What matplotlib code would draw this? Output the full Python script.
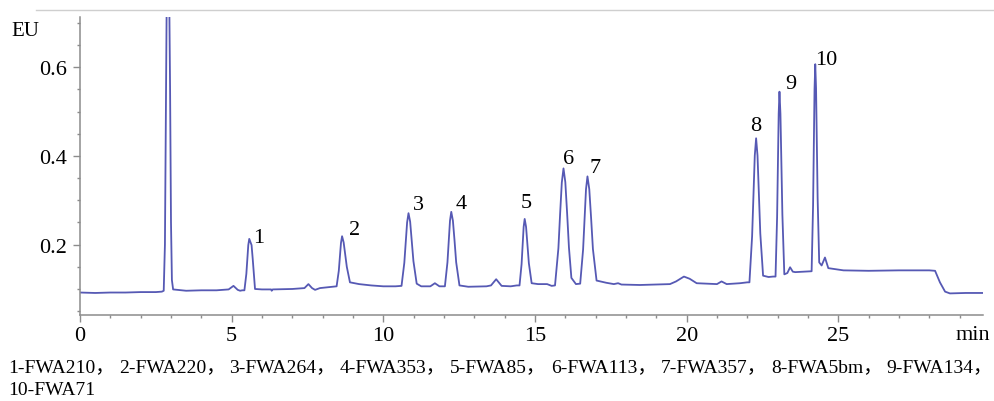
import matplotlib
matplotlib.use("Agg")
import matplotlib.pyplot as plt
from matplotlib.lines import Line2D
from matplotlib.ticker import MultipleLocator

# ---------------- data ----------------
time_min = [
    0.0, 0.5, 1.0, 1.5, 2.0, 2.5, 2.70,
    2.76, 2.80, 2.84, 2.87, 2.93, 2.97, 3.00, 3.03, 3.07,
    3.5, 4.0, 4.5, 4.9, 5.06, 5.2, 5.28, 5.35,
    5.42, 5.484, 5.516, 5.548, 5.58, 5.656, 5.694, 5.732, 5.77,
    6.0, 6.3, 6.32, 6.35, 7.0, 7.4, 7.53, 7.65, 7.75, 7.91, 8.35,
    8.46, 8.532, 8.568, 8.604, 8.64, 8.692, 8.744, 8.796, 8.9,
    9.2, 9.6, 10.0, 10.4,
    10.6, 10.692, 10.738, 10.784, 10.83, 10.884, 10.938, 10.992, 11.1,
    11.25, 11.55, 11.7, 11.85,
    12.03, 12.114, 12.156, 12.198, 12.24, 12.294, 12.348, 12.402, 12.51,
    12.8, 13.4, 13.55, 13.72, 13.9, 14.2, 14.4,
    14.49, 14.558, 14.592, 14.626, 14.66, 14.706, 14.752, 14.798, 14.89,
    15.1, 15.4, 15.55,
    15.66, 15.772, 15.828, 15.884, 15.94, 16.0, 16.06, 16.12, 16.2, 16.35,
    16.49, 16.586, 16.634, 16.682, 16.73, 16.79, 16.85, 16.91, 17.03,
    17.35, 17.6, 17.74, 17.85, 18.46, 19.45, 19.65, 19.91, 20.1, 20.33,
    21.0, 21.15, 21.32, 21.76, 22.0,
    22.07, 22.158, 22.202, 22.246, 22.29, 22.336, 22.382, 22.428, 22.52,
    22.7, 22.85,
    22.93, 22.982, 23.008, 23.034, 23.06, 23.092, 23.124, 23.156, 23.22,
    23.32, 23.41, 23.5, 23.58, 24.07,
    24.12, 24.168, 24.192, 24.216, 24.24, 24.266, 24.292, 24.318, 24.37,
    24.45, 24.56, 24.67, 25.17, 26.0, 27.0, 28.0, 28.19, 28.35, 28.52,
    28.68, 29.2, 29.76,
]
signal_eu = [
    0.092, 0.091, 0.092, 0.092, 0.093, 0.093, 0.094,
    0.096, 0.20, 0.60, 0.85, 0.85, 0.55, 0.25, 0.12, 0.099,
    0.096, 0.097, 0.097, 0.099, 0.107, 0.098, 0.096, 0.097,
    0.097, 0.134, 0.168, 0.199, 0.213, 0.199, 0.168, 0.134, 0.100,
    0.099, 0.099, 0.096, 0.099, 0.100, 0.102, 0.111, 0.102, 0.098, 0.102, 0.105,
    0.106, 0.141, 0.173, 0.204, 0.219, 0.205, 0.177, 0.150, 0.115,
    0.111, 0.108, 0.106, 0.106,
    0.107, 0.159, 0.206, 0.250, 0.271, 0.252, 0.208, 0.163, 0.112,
    0.106, 0.106, 0.113, 0.106,
    0.106, 0.160, 0.208, 0.254, 0.274, 0.254, 0.209, 0.160, 0.108,
    0.105, 0.106, 0.108, 0.122, 0.107, 0.106, 0.108,
    0.108, 0.156, 0.199, 0.240, 0.258, 0.240, 0.200, 0.158, 0.113,
    0.111, 0.111, 0.107,
    0.108, 0.192, 0.269, 0.340, 0.372, 0.341, 0.270, 0.193, 0.125, 0.111,
    0.112, 0.189, 0.259, 0.325, 0.354, 0.325, 0.260, 0.190, 0.119,
    0.114, 0.111, 0.113, 0.110, 0.109, 0.111, 0.117, 0.128, 0.123, 0.113,
    0.111, 0.117, 0.111, 0.113, 0.115,
    0.115, 0.219, 0.313, 0.401, 0.440, 0.401, 0.316, 0.225, 0.130,
    0.127, 0.128,
    0.128, 0.262, 0.382, 0.495, 0.545, 0.495, 0.386, 0.268, 0.133,
    0.136, 0.149, 0.139, 0.138, 0.140,
    0.140, 0.289, 0.425, 0.551, 0.607, 0.553, 0.432, 0.305, 0.160,
    0.153, 0.171, 0.147, 0.142, 0.141, 0.142, 0.142, 0.141, 0.115, 0.094,
    0.090, 0.091, 0.091,
]

peak_labels = ["1", "2", "3", "4", "5", "6", "7", "8", "9", "10"]
peak_times = [5.58, 8.64, 10.83, 12.24, 14.66, 15.94, 16.73, 22.29, 23.06, 24.24]
peak_heights = [0.213, 0.219, 0.271, 0.274, 0.258, 0.372, 0.354, 0.440, 0.545, 0.607]

x_ticks = [0, 5, 10, 15, 20, 25]
y_ticks = [0.2, 0.4, 0.6]
y_tick_labels = ["0.2", "0.4", "0.6"]

caption_line1_items = ["1-FWA210，", "2-FWA220，", "3-FWA264，", "4-FWA353，",
                       "5-FWA85，", "6-FWA113，", "7-FWA357，", "8-FWA5bm，",
                       "9-FWA134，"]
caption_line2 = "10-FWA71"

# ---------------- layout / style ----------------
label_offsets_px = [(9, 1), (12, 7), (10, 9), (10, 8), (2, 16),
                    (5, 10), (8, 9), (0, 13), (11, 8), (11, 5)]

SERIF = ["Liberation Serif", "Noto Sans CJK SC"]
plt.rcParams["font.family"] = SERIF

W, H = 994, 402
fig = plt.figure(figsize=(W / 100, H / 100), dpi=100)
ax = fig.add_axes([80 / W, 1 - 316 / H, 903 / W, 298 / H])

line_color = "#5659b4"
ax.plot(time_min, signal_eu, color=line_color, lw=1.3, solid_joinstyle="round")

ax.set_xlim(0, 29.77)
ax.set_ylim(0.0413, 0.7135)

spine_c = "#8c8c8c"
for s in ["top", "right"]:
    ax.spines[s].set_visible(False)
for s in ["left", "bottom"]:
    ax.spines[s].set_color(spine_c)
    ax.spines[s].set_linewidth(1.1)

ax.set_xticks(x_ticks)
ax.set_xticklabels([str(v) for v in x_ticks])
ax.xaxis.set_minor_locator(MultipleLocator(1))
ax.set_yticks(y_ticks)
ax.set_yticklabels(y_tick_labels)
ax.yaxis.set_minor_locator(MultipleLocator(0.05))

ax.tick_params(axis="both", which="major", length=5, width=1.0, color=spine_c,
               labelsize=16, labelcolor="black", direction="out")
ax.tick_params(axis="both", which="minor", length=2.5, width=1.0, color=spine_c,
               direction="out")
ax.tick_params(axis="x", which="major", pad=3)
ax.tick_params(axis="y", which="major", pad=4)

for lab, t, h, off in zip(peak_labels, peak_times, peak_heights, label_offsets_px):
    ax.annotate(lab, xy=(t, h), xytext=off, textcoords="offset pixels",
                ha="center", va="center", fontsize=16, color="black")

# axis unit labels
fig.text(25.5 / W, 1 - 32 / H, "EU", ha="center", va="center", fontsize=15)
fig.text(973 / W, 1 - 336 / H, "min", ha="center", va="center", fontsize=16)

# thin gray frame line at top
fig.add_artist(Line2D([36 / W, 1.0], [1 - 11 / H, 1 - 11 / H],
                      transform=fig.transFigure, color="#cfcfcf", lw=1.0))

# caption (items laid out one after another with a small gap after each comma)
renderer = fig.canvas.get_renderer()
x_px = 8.0
gap_px = 4.0
for item in caption_line1_items:
    t = fig.text(x_px / W, 1 - 368 / H, item, ha="left", va="center",
                 fontsize=14, family=SERIF)
    bb = t.get_window_extent(renderer=renderer)
    x_px = bb.x1 + gap_px
fig.text(8 / W, 1 - 391 / H, caption_line2, ha="left", va="center",
         fontsize=14, family=SERIF)

fig.savefig("out.png", dpi=100)
